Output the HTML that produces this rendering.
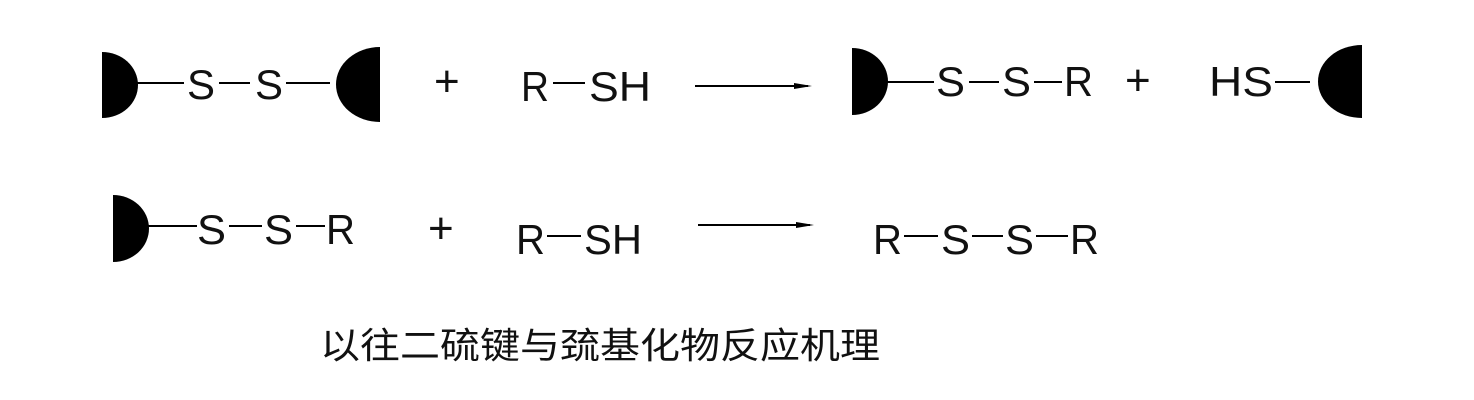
<!DOCTYPE html>
<html><head><meta charset="utf-8"><style>
html,body{margin:0;padding:0;background:#fff;}
svg{display:block}
text{font-family:"Liberation Sans",sans-serif;fill:#111;}
</style></head><body>
<svg width="1474" height="400" viewBox="0 0 1474 400">
<g fill="#000" stroke="#000">
<!-- row1 -->
<path d="M102,52 A36,33 0 0 1 102,118 Z" stroke="none"/>
<line x1="136" y1="83" x2="184" y2="83" stroke-width="2"/>
<line x1="219" y1="83" x2="250" y2="83" stroke-width="2"/>
<line x1="286" y1="83" x2="330" y2="83" stroke-width="2"/>
<path d="M380,47 A44,37.5 0 0 0 380,122 Z" stroke="none"/>
<line x1="553" y1="83" x2="585" y2="83" stroke-width="2"/>
<line x1="695" y1="86" x2="808" y2="86" stroke-width="2"/>
<polygon points="794,83 812,86 794,89" stroke="none"/>
<path d="M852,48 A36,33.5 0 0 1 852,115 Z" stroke="none"/>
<line x1="886" y1="82" x2="934" y2="82" stroke-width="2"/>
<line x1="969" y1="82" x2="999" y2="82" stroke-width="2"/>
<line x1="1034" y1="82" x2="1062" y2="82" stroke-width="2"/>
<line x1="1275" y1="82" x2="1310" y2="82" stroke-width="2"/>
<path d="M1362,45 A44,36.5 0 0 0 1362,118 Z" stroke="none"/>
<!-- row2 -->
<path d="M113,195 A36,33.5 0 0 1 113,262 Z" stroke="none"/>
<line x1="147" y1="226" x2="197" y2="226" stroke-width="2"/>
<line x1="229" y1="226" x2="262" y2="226" stroke-width="2"/>
<line x1="296" y1="226" x2="325" y2="226" stroke-width="2"/>
<line x1="547" y1="236" x2="581" y2="236" stroke-width="2"/>
<line x1="698" y1="225" x2="810" y2="225" stroke-width="2"/>
<polygon points="796,222 814,225 796,228" stroke="none"/>
<line x1="904" y1="236" x2="938" y2="236" stroke-width="2"/>
<line x1="972" y1="236" x2="1003" y2="236" stroke-width="2"/>
<line x1="1036" y1="236" x2="1068" y2="236" stroke-width="2"/>
</g>
<g font-size="42">
<text x="187" y="99" textLength="28" lengthAdjust="spacingAndGlyphs">S</text>
<text x="255" y="99" textLength="28" lengthAdjust="spacingAndGlyphs">S</text>
<text x="434" y="96" font-size="44">+</text>
<text x="521" y="101" textLength="28" lengthAdjust="spacingAndGlyphs">R</text>
<text x="589" y="101" textLength="62" lengthAdjust="spacingAndGlyphs">SH</text>
<text x="936" y="96" textLength="29" lengthAdjust="spacingAndGlyphs">S</text>
<text x="1002" y="96" textLength="29" lengthAdjust="spacingAndGlyphs">S</text>
<text x="1064" y="96" textLength="29" lengthAdjust="spacingAndGlyphs">R</text>
<text x="1125" y="95" font-size="44">+</text>
<text x="1209" y="96" textLength="64" lengthAdjust="spacingAndGlyphs">HS</text>
<text x="197" y="244" textLength="29" lengthAdjust="spacingAndGlyphs">S</text>
<text x="264" y="244" textLength="29" lengthAdjust="spacingAndGlyphs">S</text>
<text x="326" y="244" textLength="29" lengthAdjust="spacingAndGlyphs">R</text>
<text x="428" y="243" font-size="44">+</text>
<text x="516" y="254" textLength="29" lengthAdjust="spacingAndGlyphs">R</text>
<text x="584" y="254" textLength="58" lengthAdjust="spacingAndGlyphs">SH</text>
<text x="873" y="254" textLength="29" lengthAdjust="spacingAndGlyphs">R</text>
<text x="941" y="254" textLength="29" lengthAdjust="spacingAndGlyphs">S</text>
<text x="1005" y="254" textLength="29" lengthAdjust="spacingAndGlyphs">S</text>
<text x="1070" y="254" textLength="29" lengthAdjust="spacingAndGlyphs">R</text>
</g>
<text x="320" y="358" font-size="36" textLength="560" lengthAdjust="spacingAndGlyphs" style="font-family:'Liberation Sans','Noto Sans CJK SC',sans-serif">以往二硫键与巯基化物反应机理</text>
</svg>
</body></html>
